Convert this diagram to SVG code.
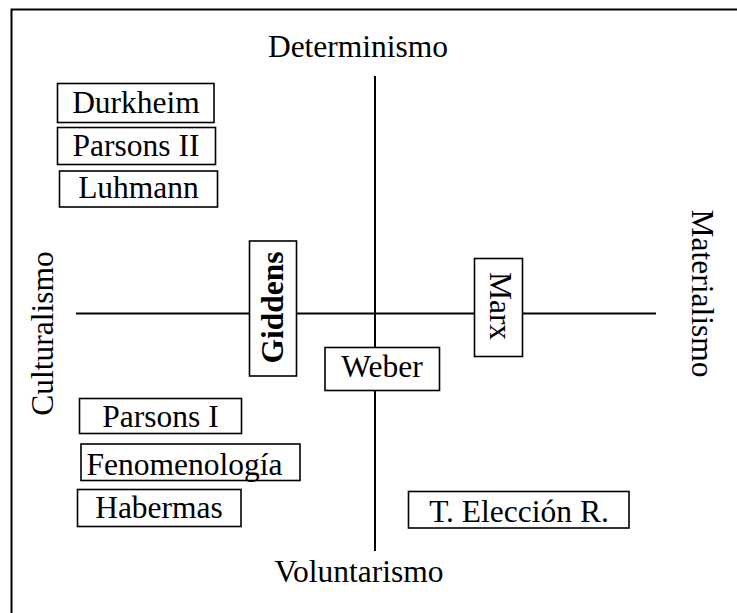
<svg xmlns="http://www.w3.org/2000/svg" width="737" height="613" viewBox="0 0 737 613">
  <style>
    text { font-family: "Liberation Serif", "Times New Roman", serif; font-size: 31.5px; fill: #000; }
    .lbl { text-anchor: middle; }
    .box { fill: #fff; stroke: #000; stroke-width: 1.6; }
    .axis { stroke: #000; stroke-width: 2; fill: none; }
    .frame { stroke: #000; stroke-width: 2; fill: none; }
  </style>
  <rect width="737" height="613" fill="#fff"/>
  <!-- outer frame (only top and left edges fall inside the page) -->
  <path class="frame" d="M11.5,640 V9.5 H760"/>

  <!-- axes -->
  <g id="connectors">
    <line class="axis" x1="375" y1="76" x2="375" y2="551"/>
    <line class="axis" x1="76" y1="313.5" x2="656" y2="313.5"/>
  </g>

  <!-- axis pole labels -->
  <g id="poles">
    <text class="lbl" x="358" y="57">Determinismo</text>
    <text class="lbl" x="359" y="582">Voluntarismo</text>
    <text class="lbl" transform="translate(53,333.5) rotate(-90)">Culturalismo</text>
    <text class="lbl" transform="translate(692,293.5) rotate(90)">Materialismo</text>
  </g>

  <g id="durkheim">
    <rect class="box" x="57.5" y="83.5" width="156.5" height="39"/>
    <text class="lbl" x="136" y="113">Durkheim</text>
  </g>
  <g id="parsons-ii">
    <rect class="box" x="57.5" y="127.5" width="158" height="37"/>
    <text class="lbl" x="136" y="156">Parsons II</text>
  </g>
  <g id="luhmann">
    <rect class="box" x="59.5" y="171" width="158" height="36" stroke-width="2"/>
    <text class="lbl" x="138.5" y="198">Luhmann</text>
  </g>
  <g id="giddens">
    <rect class="box" x="249.5" y="241" width="47" height="135"/>
    <text class="lbl" font-weight="bold" transform="translate(283,307.5) rotate(-90)">Giddens</text>
  </g>
  <g id="weber">
    <rect class="box" x="325" y="347.5" width="114.5" height="43"/>
    <text class="lbl" x="382" y="377">Weber</text>
  </g>
  <g id="marx">
    <rect class="box" x="474.5" y="258.5" width="48" height="98"/>
    <text class="lbl" transform="translate(490,306) rotate(90)">Marx</text>
  </g>
  <g id="parsons-i">
    <rect class="box" x="79.5" y="398.5" width="162" height="35"/>
    <text class="lbl" x="160.5" y="427">Parsons I</text>
  </g>
  <g id="fenomenologia">
    <rect class="box" x="81" y="444" width="219" height="36.5"/>
    <text class="lbl" x="184.5" y="475">Fenomenología</text>
  </g>
  <g id="habermas">
    <rect class="box" x="77.5" y="489.5" width="163.5" height="37"/>
    <text class="lbl" x="159" y="518">Habermas</text>
  </g>
  <g id="eleccion-racional">
    <rect class="box" x="408.5" y="491.5" width="220.5" height="36.5" stroke-width="2"/>
    <text class="lbl" x="519" y="522">T. Elección R.</text>
  </g>
</svg>
